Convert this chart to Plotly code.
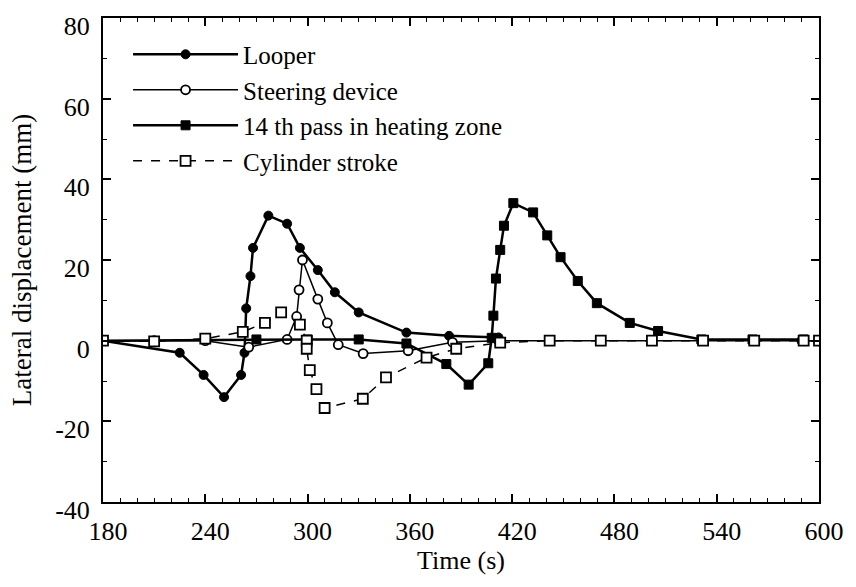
import plotly.graph_objects as go

# ---- data ----
looper_t = [180, 225, 239, 251, 261, 263, 264, 266.5, 268, 277, 288, 295.5, 306, 316, 330, 358, 383, 412]
looper_y = [0, -3, -8.5, -14, -8.5, -3, 8, 16, 23, 31, 29, 23, 17.5, 12, 7, 2, 1.2, 0.8]

steer_t = [180, 210, 240, 265.5, 288, 293.6, 295, 297, 306, 311.6, 318, 332.6, 359, 385, 412, 442, 472, 502, 532, 562, 590, 600]
steer_y = [0, 0, 0, -1.6, 0.3, 6, 12.6, 20, 10.3, 4.4, -1, -3.2, -2.5, -0.4, 0, 0, 0, 0, 0, 0, 0, 0]

pass14_t = [180, 270, 300, 330, 358, 381.4, 394.5, 406, 408, 409, 410.5, 413, 415.2, 420.7, 432.3,
            440.6, 448.4, 458.5, 469.7, 489, 505.6, 531, 561, 591]
pass14_y = [0, 0.3, 0.3, 0.3, -0.7, -5.8, -10.9, -5.6, 0.7, 6.2, 15.4, 22.5, 28.5, 34.1, 31.8,
            26.1, 20.7, 14.8, 9.3, 4.4, 2.4, 0.3, 0.3, 0.3]

cyl_t = [180, 210, 240, 262, 275, 284.5, 295.5, 299.5, 299.5, 301.3, 305.2, 310, 332.4, 346, 369.8,
         387.2, 413, 442, 472, 502, 532, 562, 591, 600]
cyl_y = [0, -0.2, 0.5, 2.2, 4.4, 7, 4, 0, -2, -7.3, -12, -16.7, -14.4, -9.1, -4.2,
         -2.0, -0.5, 0, 0, 0, 0, 0, 0, 0]

x_ticks = [180, 240, 300, 360, 420, 480, 540, 600]
y_ticks = [-40, -20, 0, 20, 40, 60, 80]

FONT = "Liberation Serif, Times New Roman, serif"

fig = go.Figure()
fig.add_trace(go.Scatter(
    x=looper_t, y=looper_y, name="Looper", mode="lines+markers",
    line=dict(color="black", width=2.5),
    marker=dict(symbol="circle", size=9, color="black", line=dict(color="black", width=1))))
fig.add_trace(go.Scatter(
    x=steer_t, y=steer_y, name="Steering device", mode="lines+markers",
    line=dict(color="black", width=1.5),
    marker=dict(symbol="circle", size=9, color="white", line=dict(color="black", width=1.8))))
fig.add_trace(go.Scatter(
    x=pass14_t, y=pass14_y, name="14 th pass in heating zone", mode="lines+markers",
    line=dict(color="black", width=2.5),
    marker=dict(symbol="square", size=9, color="black", line=dict(color="black", width=1))))
fig.add_trace(go.Scatter(
    x=cyl_t, y=cyl_y, name="Cylinder stroke", mode="lines+markers",
    line=dict(color="black", width=1.5, dash="dash"),
    marker=dict(symbol="square", size=10, color="white", line=dict(color="black", width=1.8))))

axis_common = dict(
    showgrid=False, zeroline=False, showline=True, linecolor="black", linewidth=2,
    mirror="ticks", ticks="inside", ticklen=8, tickwidth=1.5, tickcolor="black",
    tickfont=dict(family=FONT, size=26, color="black"),
)

fig.update_xaxes(
    range=[180, 600], tickvals=x_ticks, ticktext=[str(v) for v in x_ticks],
    minor=dict(dtick=10, tick0=180, ticks="inside", ticklen=4, tickcolor="black", tickwidth=1),
    title=dict(text="Time (s)", font=dict(family=FONT, size=26, color="black"), standoff=4),
    ticklabelstandoff=5, ticklabelshift=5,
    **axis_common)
fig.update_yaxes(
    range=[-40, 80], tickvals=y_ticks, ticktext=[str(v) for v in y_ticks],
    minor=dict(dtick=10, tick0=0, ticks="inside", ticklen=4, tickcolor="black", tickwidth=1),
    title=dict(text="Lateral displacement (mm)", font=dict(family=FONT, size=27, color="black"), standoff=16),
    ticklabelstandoff=6, ticklabelshift=8,
    **axis_common)

fig.update_layout(
    width=856, height=587,
    margin=dict(l=103, r=31, t=12, b=85),
    paper_bgcolor="white", plot_bgcolor="white",
    font=dict(family=FONT, color="black"),
    showlegend=True,
    legend=dict(
        x=0.035, y=0.972, xanchor="left", yanchor="top",
        bgcolor="rgba(0,0,0,0)", borderwidth=0,
        font=dict(family=FONT, size=25, color="black"),
        itemwidth=105, tracegroupgap=0,
    ),
)

fig.write_html("out.html")
